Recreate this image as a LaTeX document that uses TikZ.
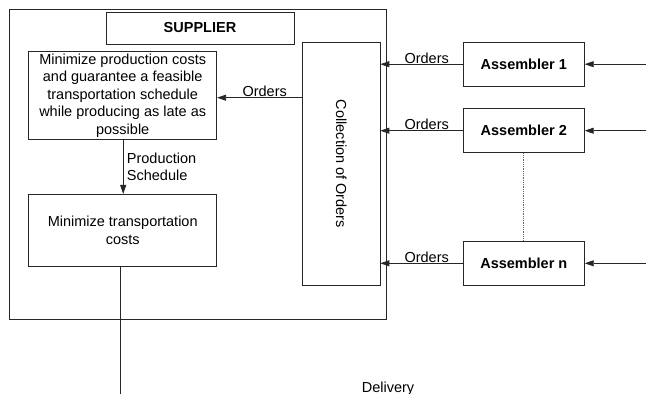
\documentclass[tikz,border=0pt]{standalone}
\usepackage{fontspec}
\setmainfont{Liberation Sans}
\usetikzlibrary{arrows.meta}
\newcommand\dfont{\fontsize{14.5}{17.5}\selectfont}
\begin{document}
\begin{tikzpicture}[x=1pt,y=-1pt,
  box/.style={draw=black!85, line width=0.8pt, inner sep=0pt, align=center, font=\dfont},
  bbox/.style={box, font=\dfont\bfseries},
  arr/.style={draw=black!85, line width=0.8pt, -{Triangle[length=9pt,width=6pt]}},
  ln/.style={draw=black!85, line width=0.8pt},
  lbl/.style={inner sep=0pt, font=\dfont}]
\useasboundingbox (0,0) rectangle (646,394);
% frame
\node[box, minimum width=377pt, minimum height=309.7pt] (frame) at (197.8,164.2) {};
\node[bbox, minimum width=188pt, minimum height=32pt] (supplier) at (200,28) {SUPPLIER};
\node[box, minimum width=188pt, minimum height=87.6pt] (prod) at (122.7,95.5)
  {Minimize production costs\\and guarantee a feasible\\transportation schedule\\while producing as late as\\possible};
\node[box, minimum width=188pt, minimum height=71.7pt] (trans) at (122.7,230.2)
  {Minimize transportation\\costs};
\node[box, minimum width=77.3pt, minimum height=243pt] (coll) at (341.3,163.8) {};
\node[lbl, rotate=-90] (colltext) at (coll.center) {Collection of Orders};
\node[bbox, minimum width=121pt, minimum height=43.7pt] (a1) at (523.8,64.2) {Assembler 1};
\node[bbox, minimum width=121pt, minimum height=44pt] (a2) at (523.8,130.7) {Assembler 2};
\node[bbox, minimum width=121pt, minimum height=44pt] (an) at (523.8,263.3) {Assembler n};
\coordinate (in1) at (646,64.2);
\coordinate (in2) at (646,130.7);
\coordinate (inn) at (646,263.3);
\coordinate (dend) at (120,394);
% arrows
\draw[arr] ([yshift=-2.2pt]prod.east -| coll.west) -- ([yshift=-2.2pt]prod.east);
\node[lbl, anchor=base] (o0) at (264.7,96.8) {Orders};
\draw[arr] ([xshift=0.5pt]prod.south) -- ([xshift=0.5pt]prod.south |- trans.north);
\node[lbl, anchor=north west, align=left] (ps) at (126.7,152.3) {Production\\Schedule};
\draw[ln] ([xshift=-2.7pt]trans.south) -- (dend);
\node[lbl, anchor=base] (del) at (388,392) {Delivery};
\draw[arr] (a1.west) -- (a1.west -| coll.east);
\draw[arr] (a2.west) -- (a2.west -| coll.east);
\draw[arr] (an.west) -- (an.west -| coll.east);
\node[lbl, anchor=base] (o1) at (426.7,63.3) {Orders};
\node[lbl, anchor=base] (o2) at (426.7,129.8) {Orders};
\node[lbl, anchor=base] (on) at (426.7,262.4) {Orders};
\draw[arr] (in1) -- (a1.east);
\draw[arr] (in2) -- (a2.east);
\draw[arr] (inn) -- (an.east);
\draw[black!60, line width=0.8pt, densely dotted] (a2.south) -- (an.north);
\end{tikzpicture}
\end{document}
